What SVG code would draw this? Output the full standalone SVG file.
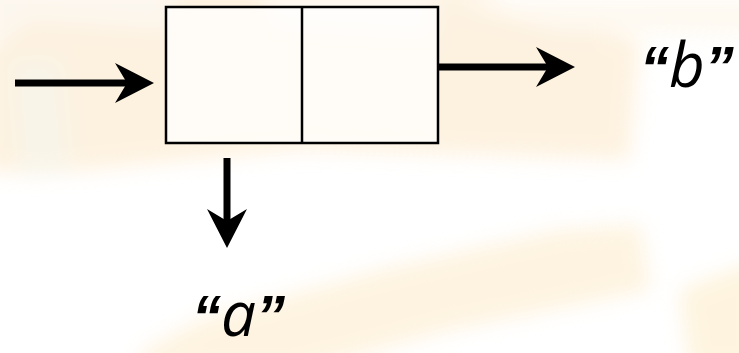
<svg xmlns="http://www.w3.org/2000/svg" width="739" height="353" viewBox="0 0 739 353">
  <defs>
    <filter id="blur" x="-20%" y="-20%" width="140%" height="140%">
      <feGaussianBlur stdDeviation="10"/>
    </filter>
    <marker id="ah" viewBox="0 0 39 40" refX="12" refY="20" markerWidth="39" markerHeight="40" markerUnits="userSpaceOnUse" orient="auto">
      <path d="M0,0 L39,20 L0,40 L12,20 Z" fill="#000"/>
    </marker>
    <style>
      .conn { stroke: #000; stroke-width: 7; fill: none; marker-end: url(#ah); }
      .box { fill: #fff; fill-opacity: 0.7; stroke: #000; stroke-width: 2.5; }
      .lbl { font-family: "Open Sans", "DejaVu Sans", sans-serif; font-style: italic; font-size: 62px; fill: #000; }
      .q { font-family: "Liberation Sans", Arial, sans-serif; font-style: italic; font-weight: bold; font-size: 58px; }
    </style>
  </defs>
  <rect width="739" height="353" fill="#fff"/>
  <g id="background" filter="url(#blur)" opacity="0.5">
    <polygon points="-20,-20 470,-20 520,10 640,40 630,160 300,150 40,175 -20,170" fill="#fde6c3"/>
    <polygon points="-20,-20 180,-20 170,30 30,20 -20,60" fill="#fbf0df"/>
    <polygon points="440,0 760,0 760,35 560,30" fill="#fdf3e2"/>
    <polygon points="260,-10 440,-10 430,40 270,30" fill="#fef3e4"/>
    <polygon points="140,353 200,320 380,270 560,230 640,225 650,290 450,330 300,370 140,370" fill="#fde8c2"/>
    <polygon points="680,290 760,260 760,370 690,370" fill="#fde9bf"/>
    <polygon points="10,60 60,60 70,170 20,175" fill="#f2ead2"/>
  </g>
  <g id="node-box">
    <rect class="box" x="166" y="7" width="272" height="136"/>
    <line x1="302" y1="7" x2="302" y2="143" stroke="#000" stroke-width="2.5"/>
  </g>
  <g id="connectors">
    <line class="conn" x1="15" y1="83" x2="127" y2="83"/>
    <line class="conn" x1="438" y1="67" x2="548" y2="67"/>
    <line class="conn" x1="227" y1="158" x2="227" y2="221"/>
  </g>
  <g id="label-b">
    <text class="lbl" x="640" y="87"><tspan class="q">“</tspan>b<tspan class="q">”</tspan></text>
  </g>
  <g id="label-a">
    <text class="lbl" x="192" y="336"><tspan class="q">“</tspan>a<tspan class="q">”</tspan></text>
  </g>
</svg>
